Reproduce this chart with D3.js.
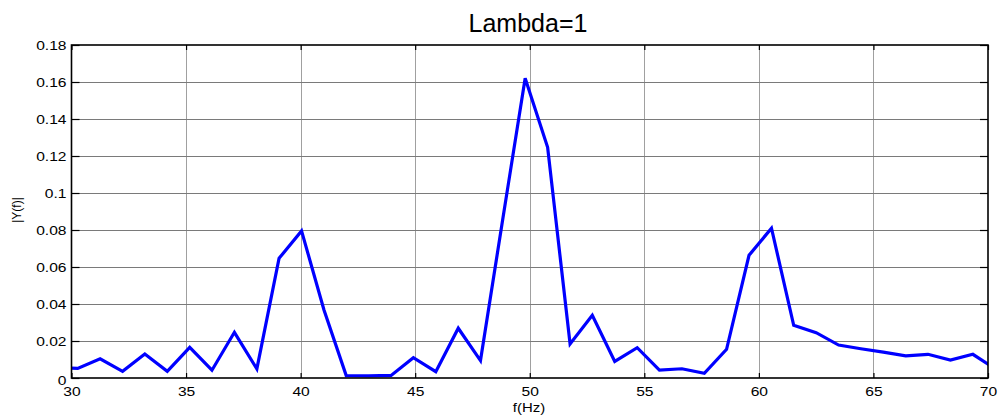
<!DOCTYPE html>
<html>
<head>
<meta charset="utf-8">
<script src="https://cdn.jsdelivr.net/npm/d3@7/dist/d3.min.js"></script>
<style>
  html, body { margin: 0; padding: 0; background: #fff; }
  svg { display: block; }
  text { font-family: "Liberation Sans", Arial, sans-serif; fill: #000; }
</style>
</head>
<body>
<svg id="chart" width="999" height="418"></svg>
<script>
// Spectrum magnitude samples (FFT bin frequencies in Hz and |Y(f)|)
const freqs = [29.30, 30.27, 31.25, 32.23, 33.20, 34.18, 35.16, 36.13, 37.11, 38.09,
  39.06, 40.04, 41.02, 41.99, 42.97, 43.95, 44.92, 45.90, 46.88, 47.85,
  48.83, 49.80, 50.78, 51.76, 52.73, 53.71, 54.69, 55.66, 56.64, 57.62,
  58.59, 59.57, 60.55, 61.52, 62.50, 63.48, 64.45, 65.43, 66.41, 67.38,
  68.36, 69.34, 70.31];
const magnitudes = [0.0055, 0.0052, 0.0104, 0.0036, 0.0130, 0.0036, 0.0166, 0.0042, 0.0247, 0.0049,
  0.0647, 0.0795, 0.0368, 0.0013, 0.0011, 0.0014, 0.0110, 0.0034, 0.0269, 0.0094,
  0.0865, 0.1620, 0.1247, 0.0184, 0.0339, 0.0090, 0.0164, 0.0043, 0.0050, 0.0025,
  0.0155, 0.0663, 0.0810, 0.0285, 0.0245, 0.0178, 0.0158, 0.0140, 0.0120, 0.0128,
  0.0097, 0.0128, 0.0050];
const xTicks = [30, 35, 40, 45, 50, 55, 60, 65, 70];
const yTicks = [0, 0.02, 0.04, 0.06, 0.08, 0.1, 0.12, 0.14, 0.16, 0.18];
const titleText = "Lambda=1";
const xLabel = "f(Hz)";
const yLabel = "|Y(f)|";

const svg = d3.select("#chart");
const L = 71.5, R = 988, T = 45, B = 378;

const x = d3.scaleLinear().domain([30, 70]).range([L, R]);
const y = d3.scaleLinear().domain([0, 0.18]).range([B, T]);

// grid lines
const grid = svg.append("g").attr("stroke-width", 1);
grid.selectAll("line.v").data(xTicks.slice(1, -1)).join("line").attr("class", "v")
  .attr("x1", d => Math.round(x(d)) + 0.5).attr("x2", d => Math.round(x(d)) + 0.5)
  .attr("y1", T).attr("y2", B).attr("stroke", "#a0a0a0");
grid.selectAll("line.h").data(yTicks.slice(1, -1)).join("line").attr("class", "h")
  .attr("y1", d => Math.round(y(d)) + 0.5).attr("y2", d => Math.round(y(d)) + 0.5)
  .attr("x1", L).attr("x2", R).attr("stroke", "#7a7a7a");

// data line, clipped to the axes box
svg.append("clipPath").attr("id", "plotClip")
  .append("rect").attr("x", L).attr("y", T).attr("width", R - L).attr("height", B - T);

const pts = freqs.map((f, i) => [f, magnitudes[i]]);
svg.append("path")
  .datum(pts)
  .attr("clip-path", "url(#plotClip)")
  .attr("fill", "none")
  .attr("stroke", "#0000ff")
  .attr("stroke-width", 3.2)
  .attr("stroke-linejoin", "miter")
  .attr("d", d3.line().x(d => x(d[0])).y(d => y(d[1])));

// axes: ticks point inward, labels outside
const axBottom = svg.append("g").attr("transform", `translate(0,${B})`)
  .call(d3.axisBottom(x).tickValues(xTicks).tickFormat(d3.format("d")).tickSizeInner(-5).tickSizeOuter(0).tickPadding(10));
const axTop = svg.append("g").attr("transform", `translate(0,${T})`)
  .call(d3.axisTop(x).tickValues(xTicks).tickFormat("").tickSizeInner(-5).tickSizeOuter(0));
const axLeft = svg.append("g").attr("transform", `translate(${L},0)`)
  .call(d3.axisLeft(y).tickValues(yTicks).tickFormat(d => d === 0 ? "0" : String(+d.toFixed(2))).tickSizeInner(-8).tickSizeOuter(0).tickPadding(5));
const axRight = svg.append("g").attr("transform", `translate(${R},0)`)
  .call(d3.axisRight(y).tickValues(yTicks).tickFormat("").tickSizeInner(-8).tickSizeOuter(0));

[axBottom, axTop, axLeft, axRight].forEach(g => {
  g.select(".domain").remove();
  g.selectAll(".tick line").attr("stroke", "#000").attr("stroke-width", 1.2);
});
axBottom.selectAll("text").attr("font-size", 13).attr("font-family", "Liberation Sans, Arial, sans-serif")
  .attr("fill", "#000").attr("transform", "scale(1.2,1)").attr("dy", "0.71em").attr("y", 9);
axLeft.selectAll("text").attr("font-size", 13).attr("font-family", "Liberation Sans, Arial, sans-serif")
  .attr("fill", "#000").attr("x", 0).attr("transform", "translate(-5,0) scale(1.2,1)");
// the zero label sits a little lower, just clear of the first x label
axLeft.selectAll(".tick").filter(d => d === 0).select("text").attr("dy", "0.48em");

// axes box
svg.append("rect").attr("x", L).attr("y", T).attr("width", R - L).attr("height", B - T)
  .attr("fill", "none").attr("stroke", "#000").attr("stroke-width", 1.6);

// title and axis labels
svg.append("text").attr("x", 528).attr("y", 32).attr("text-anchor", "middle")
  .attr("font-size", 25).text(titleText);
svg.append("text").attr("x", 529).attr("y", 412).attr("text-anchor", "middle")
  .attr("font-size", 13).attr("transform", "translate(529,0) scale(1.15,1) translate(-529,0)").text(xLabel);
svg.append("text").attr("transform", "translate(21,210) rotate(-90)").attr("text-anchor", "middle")
  .attr("font-size", 12).text(yLabel);
</script>
</body>
</html>
